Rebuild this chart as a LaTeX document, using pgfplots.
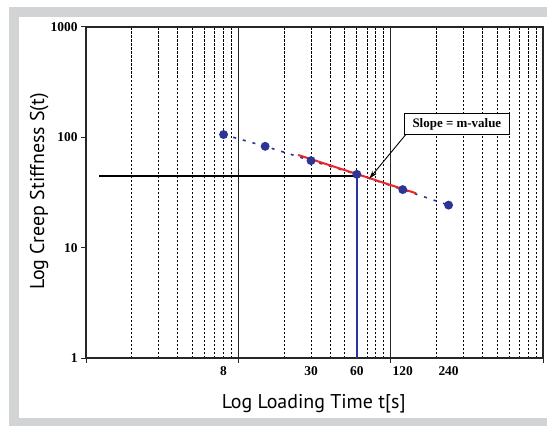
\documentclass[border=0pt]{standalone}
\usepackage{pgfplots}
\pgfplotsset{compat=1.18}
\usepackage{fontspec}
\setmainfont{Liberation Serif}
\newfontfamily\labelfont{PT Sans}
\usetikzlibrary{arrows.meta}
\definecolor{frame}{RGB}{209,211,212}
\definecolor{ptblue}{RGB}{44,52,150}
\definecolor{vblue}{RGB}{40,50,160}
\definecolor{fitred}{RGB}{236,38,38}

\begin{document}
\begin{tikzpicture}[x=1bp,y=1bp]
\useasboundingbox (0,0) rectangle (547,426);
\fill[frame] (9,0) rectangle (547,419);
\fill[white] (19,8) rectangle (547,409);
\begin{axis}[
  at={(86bp,68bp)}, anchor=south west,
  scale only axis, width=457bp, height=331bp,
  xmode=log, ymode=log,
  xmin=1, xmax=1000, ymin=1, ymax=1000,
  axis line style={black!85, line width=1.3bp},
  xtick={1,10,100,1000}, xticklabels={,,,},
  minor xtick={2,3,4,5,6,7,8,9,20,30,40,50,60,70,80,90,200,300,400,500,600,700,800,900},
  ytick={1,10,100,1000},
  yticklabels={\textbf{1},\textbf{10},\textbf{100},\textbf{1000}},
  minor ytick={},
  extra x ticks={8,30,60,120,240},
  extra x tick labels={\textbf{8},\textbf{30},\textbf{60},\textbf{120},\textbf{240}},
  extra x tick style={major tick length=0pt, grid=none},
  xtick pos=bottom, ytick pos=left,
  tick align=outside, major tick length=5bp, minor tick length=0pt,
  tick style={black!85, line width=1bp},
  xmajorgrids, xminorgrids, ymajorgrids=false, yminorgrids=false,
  major grid style={black!85, line width=1.2bp},
  minor grid style={black, line width=0.9bp, dash pattern=on 2.5bp off 1.5bp},
  tick label style={font=\fontsize{13.5}{16}\selectfont},
  x tick label style={yshift=-5bp},
]
% reference lines at t = 60 s
\addplot[black, line width=2bp] coordinates {(1.22,44.7)(60,44.7)};
\addplot[vblue, line width=2bp] coordinates {(60.1,1)(60.1,47.9)};
% measured stiffness
\addplot[ptblue, line width=1.6bp, dash pattern=on 3bp off 7bp,
  mark=*, mark size=3.6bp, mark options={solid}]
  coordinates {(8,106)(15,82.9)(30,61.5)(60,46.2)(120,33.6)(240,24.3)};
% tangent (slope = m)
\addplot[fitred, line width=2bp] coordinates {(24.7,69.2)(147,31.1)};
\addplot[black, line width=0.9bp, -{Stealth[length=8bp,width=5bp]}]
  coordinates {(126,106.5)(72.5,42.3)};
\node[draw=black, line width=1bp, fill=white, minimum width=105bp,
  minimum height=21bp, inner sep=0pt, font=\bfseries\fontsize{13}{15}\selectfont]
  at (axis cs:272,132) {Slope = m-value};
\end{axis}
\node[rotate=90, anchor=base, font=\labelfont\fontsize{20}{24}\selectfont]
  at (44,234.5) {Log Creep Stiffness S(t)};
\node[anchor=base, font=\labelfont\fontsize{20}{24}\selectfont]
  at (313.7,17.7) {Log Loading Time t[s]};
\end{tikzpicture}
\end{document}
